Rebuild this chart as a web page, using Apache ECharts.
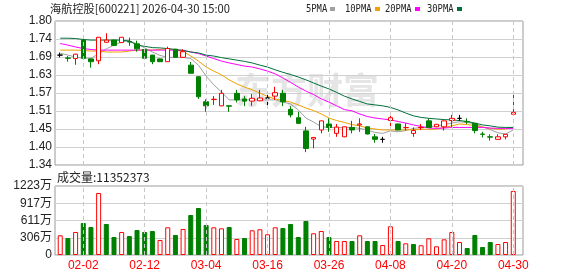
<!DOCTYPE html>
<html><head><meta charset="utf-8">
<script src="https://cdn.jsdelivr.net/npm/echarts@6/dist/echarts.min.js"></script>
<style>html,body{margin:0;padding:0;background:#fff}#c{width:578px;height:276px}</style>
</head><body><div id="c"></div>
<script>
const titleText = '海航控股[600221] 2026-04-30 15:00';
const volTitle = '成交量:11352373';
const maNames = ['5PMA', '10PMA', '20PMA', '30PMA'];
const dates = ['01-28','01-29','01-30','02-02','02-03','02-04','02-05','02-06','02-09','02-10','02-11','02-12','02-13','02-24','02-25','02-26','02-27','03-02','03-03','03-04','03-05','03-06','03-09','03-10','03-11','03-12','03-13','03-16','03-17','03-18','03-19','03-20','03-23','03-24','03-25','03-26','03-27','03-30','03-31','04-01','04-02','04-03','04-07','04-08','04-09','04-10','04-13','04-14','04-15','04-16','04-17','04-20','04-21','04-22','04-23','04-24','04-27','04-28','04-29','04-30'];
const opens = [1.691,1.682,1.680,1.739,1.679,1.673,1.732,1.739,1.731,1.734,1.727,1.709,1.691,1.679,1.670,1.710,1.684,1.659,1.622,1.542,1.549,1.529,1.529,1.569,1.551,1.544,1.545,1.554,1.560,1.569,1.518,1.491,1.449,1.423,1.452,1.471,1.441,1.430,1.460,1.468,1.462,1.430,1.422,1.482,1.471,1.459,1.441,1.459,1.481,1.462,1.462,1.482,1.489,1.479,1.473,1.439,1.430,1.422,1.430,1.502];
const closes = [1.691,1.681,1.694,1.681,1.670,1.748,1.739,1.722,1.748,1.733,1.711,1.681,1.670,1.670,1.712,1.684,1.702,1.633,1.558,1.529,1.550,1.569,1.528,1.548,1.544,1.553,1.554,1.554,1.571,1.542,1.500,1.473,1.393,1.428,1.481,1.460,1.461,1.462,1.452,1.471,1.439,1.422,1.422,1.491,1.452,1.460,1.450,1.460,1.460,1.470,1.481,1.489,1.489,1.478,1.450,1.438,1.429,1.430,1.438,1.508];
const lows = [1.684,1.670,1.660,1.680,1.651,1.662,1.731,1.721,1.730,1.721,1.702,1.680,1.662,1.669,1.669,1.683,1.683,1.632,1.551,1.510,1.532,1.528,1.510,1.540,1.528,1.529,1.544,1.529,1.548,1.528,1.492,1.472,1.381,1.393,1.441,1.446,1.430,1.429,1.441,1.446,1.438,1.411,1.411,1.462,1.451,1.450,1.430,1.452,1.459,1.461,1.450,1.462,1.481,1.471,1.441,1.428,1.418,1.421,1.422,1.501];
const highs = [1.699,1.688,1.695,1.750,1.680,1.749,1.761,1.740,1.749,1.747,1.737,1.710,1.692,1.680,1.718,1.711,1.710,1.669,1.623,1.550,1.560,1.580,1.530,1.580,1.560,1.567,1.580,1.569,1.590,1.580,1.528,1.510,1.462,1.429,1.482,1.489,1.471,1.463,1.481,1.489,1.463,1.439,1.430,1.500,1.472,1.473,1.460,1.471,1.489,1.471,1.482,1.500,1.500,1.489,1.474,1.446,1.438,1.438,1.439,1.571];
const volumes = [3490000,3010000,4080000,5670000,4960000,10990000,5500000,3190000,4080000,3370000,4430000,4080000,4260000,2660000,4910000,3550000,4610000,7090000,8330000,5320000,4910000,4730000,4960000,2840000,3010000,4380000,4560000,3670000,4910000,4790000,5500000,3190000,6030000,3850000,4260000,3190000,2480000,2480000,2480000,3490000,2480000,2480000,1770000,5090000,2480000,2070000,1950000,1720000,2960000,1540000,2780000,4080000,2300000,1240000,3550000,1420000,2300000,1950000,2300000,11352373];
const ma5 = [1.697,1.691,1.685,1.681,1.681,1.695,1.711,1.723,1.733,1.737,1.727,1.714,1.701,1.690,1.684,1.684,1.684,1.680,1.659,1.624,1.596,1.573,1.548,1.548,1.548,1.548,1.548,1.548,1.548,1.541,1.535,1.516,1.490,1.477,1.462,1.460,1.460,1.460,1.460,1.457,1.452,1.444,1.441,1.449,1.446,1.450,1.457,1.460,1.462,1.465,1.469,1.474,1.478,1.476,1.471,1.462,1.453,1.443,1.439,1.452];
const ma10 = [1.707,1.707,1.707,1.706,1.704,1.704,1.701,1.701,1.701,1.704,1.707,1.707,1.707,1.709,1.712,1.707,1.703,1.688,1.672,1.653,1.640,1.628,1.612,1.599,1.589,1.580,1.570,1.559,1.551,1.546,1.541,1.532,1.522,1.514,1.503,1.490,1.482,1.476,1.469,1.465,1.458,1.455,1.452,1.452,1.452,1.452,1.453,1.454,1.454,1.455,1.460,1.465,1.471,1.469,1.466,1.461,1.457,1.454,1.455,1.460];
const ma20 = [1.728,1.723,1.717,1.712,1.709,1.707,1.707,1.707,1.707,1.707,1.707,1.707,1.707,1.707,1.707,1.707,1.706,1.701,1.696,1.688,1.680,1.672,1.666,1.661,1.656,1.653,1.647,1.640,1.631,1.618,1.604,1.589,1.576,1.565,1.551,1.541,1.529,1.517,1.513,1.503,1.495,1.490,1.487,1.484,1.479,1.474,1.468,1.463,1.458,1.457,1.458,1.460,1.460,1.460,1.460,1.460,1.458,1.457,1.457,1.457];
const ma30 = [1.745,1.745,1.744,1.741,1.739,1.739,1.739,1.739,1.739,1.736,1.723,1.719,1.715,1.714,1.712,1.709,1.706,1.701,1.698,1.691,1.688,1.683,1.679,1.675,1.671,1.666,1.659,1.653,1.644,1.636,1.629,1.621,1.612,1.602,1.592,1.583,1.572,1.560,1.551,1.543,1.535,1.532,1.529,1.524,1.516,1.506,1.497,1.492,1.489,1.487,1.485,1.484,1.482,1.479,1.474,1.468,1.465,1.461,1.460,1.460];
const priceTickLabels = ['1.34','1.40','1.45','1.51','1.57','1.63','1.69','1.74','1.80'];
const volTickLabels = ['0','306万','611万','917万','1223万'];
const priceMin = 1.34, priceMax = 1.80, volMax = 12230000;

const RED = '#ff0000', GREEN = '#008000';
const maColors = ['#a0a0a0', '#f0a000', '#ff00ff', '#00703c'];
const labelEvery = (i) => (i - 3) % 8 === 0;
const tickDates = dates.filter((d, i) => labelEvery(i));
const fontLat = 'Liberation Sans, Arial, Noto Sans CJK SC, sans-serif';

const candleData = dates.map((d, i) => [opens[i], closes[i], lows[i], highs[i]]);
const volData = volumes.map((v, i) => {
  const up = i === 0 || closes[i] >= closes[i - 1];
  return { value: v, itemStyle: up ? { color: '#ffffff', borderColor: RED, borderWidth: 1 } : { color: GREEN, borderColor: GREEN, borderWidth: 1 } };
});
const blanks = dates.map(() => '-');

const F = { left: 55, width: 468 };
const D = { left: 56.4, width: 460.7 };
const mainTop = 21, mainH = 144, volTop = 186, volH = 69;

const vLines = {
  silent: true, symbol: ['none', 'none'], label: { show: false }, animation: false,
  lineStyle: { color: '#c8c8c8', type: [4, 3], width: 1 },
  emphasis: { disabled: true },
  data: tickDates.map(d => ({ xAxis: d }))
};

const graphic = [
  { type: 'text', x: 307, y: 90, z: 0, silent: true, style: { text: '东方财富', fontSize: 36, fontWeight: 'bold', fontFamily: 'Noto Sans CJK SC', fill: '#e5e5e5', align: 'center', verticalAlign: 'middle', textAlign: 'center', textVerticalAlign: 'middle' } },
  { type: 'text', x: 50, y: 9, style: { text: titleText, fontSize: 11.2, fontFamily: 'Noto Sans CJK SC', fill: '#222', verticalAlign: 'middle', textVerticalAlign: 'middle' } },
  { type: 'text', x: 57, y: 177, style: { text: volTitle, fontSize: 12, fontFamily: 'Noto Sans CJK SC', fill: '#222', verticalAlign: 'middle', textVerticalAlign: 'middle' } }
];
const legendX = [306, 345, 385, 427];
const legendMarkX = [330, 375, 415, 457];
maNames.forEach((n, k) => {
  graphic.push({ type: 'text', x: legendX[k], y: 9, scaleX: 0.8, style: { text: n, fontSize: 11, fontFamily: 'DejaVu Sans Mono', fill: '#222', verticalAlign: 'middle', textVerticalAlign: 'middle' } });
  graphic.push({ type: 'rect', shape: { x: legendMarkX[k], y: 7, width: 5, height: 4 }, style: { fill: maColors[k] } });
});

const maSeries = [ma5, ma10, ma20, ma30].map((arr, k) => ({
  type: 'line', name: maNames[k], xAxisIndex: 1, yAxisIndex: 1, data: arr,
  symbol: 'none', z: 2, lineStyle: { width: 1, color: maColors[k] }, silent: true
}));

const option = {
  animation: false,
  backgroundColor: '#ffffff',
  grid: [
    { left: F.left, top: mainTop, width: F.width, height: mainH, show: true, borderColor: '#999', borderWidth: 1 },
    { left: D.left, top: mainTop, width: D.width, height: mainH },
    { left: F.left, top: volTop, width: F.width, height: volH, show: true, borderColor: '#999', borderWidth: 1 },
    { left: D.left, top: volTop, width: D.width, height: volH }
  ],
  xAxis: [
    { gridIndex: 0, type: 'value', min: 0, max: 1, show: false },
    { gridIndex: 1, type: 'category', data: dates, boundaryGap: true, axisLine: { show: false }, axisTick: { show: false }, axisLabel: { show: false }, splitLine: { show: false } },
    { gridIndex: 2, type: 'value', min: 0, max: 1, show: false },
    { gridIndex: 3, type: 'category', data: dates, boundaryGap: true, axisLine: { show: false }, axisTick: { show: false },
      axisLabel: { show: true, interval: labelEvery, color: RED, fontSize: 12, margin: 5, fontFamily: fontLat }, splitLine: { show: false } }
  ],
  yAxis: [
    { gridIndex: 0, type: 'value', min: 0, max: 8, interval: 1, axisLine: { show: false }, axisTick: { show: false },
      axisLabel: { formatter: v => priceTickLabels[Math.round(v)], color: '#222', fontSize: 12, margin: 3, fontFamily: fontLat },
      splitLine: { show: true, lineStyle: { color: '#d0d0d0', width: 1 } } },
    { gridIndex: 1, type: 'value', min: priceMin, max: priceMax, show: false },
    { gridIndex: 2, type: 'value', min: 0, max: 4, interval: 1, axisLine: { show: false }, axisTick: { show: false },
      axisLabel: { formatter: v => volTickLabels[Math.round(v)], color: '#222', fontSize: 12, margin: 3, fontFamily: fontLat },
      splitLine: { show: true, lineStyle: { color: '#d0d0d0', width: 1 } } },
    { gridIndex: 3, type: 'value', min: 0, max: volMax, show: false }
  ],
  graphic: graphic,
  series: [
    { type: 'line', name: 'gridX', xAxisIndex: 1, yAxisIndex: 1, data: blanks, symbol: 'none', z: 1, silent: true, lineStyle: { width: 0 }, markLine: vLines },
    { type: 'line', name: 'gridXv', xAxisIndex: 3, yAxisIndex: 3, data: blanks, symbol: 'none', z: 1, silent: true, lineStyle: { width: 0 }, markLine: vLines },
    ...maSeries,
    { type: 'candlestick', name: 'K', xAxisIndex: 1, yAxisIndex: 1, data: candleData, barWidth: 5, z: 3, silent: true,
      itemStyle: { color: '#ffffff', color0: GREEN, borderColor: RED, borderColor0: GREEN, borderColorDoji: '#000000', borderWidth: 1 } },
    { type: 'bar', name: 'VOL', xAxisIndex: 3, yAxisIndex: 3, data: volData, barWidth: 5, z: 3, silent: true }
  ]
};
const chart = echarts.init(document.getElementById('c'), null, { renderer: 'canvas' });
chart.setOption(option);
</script></body></html>
